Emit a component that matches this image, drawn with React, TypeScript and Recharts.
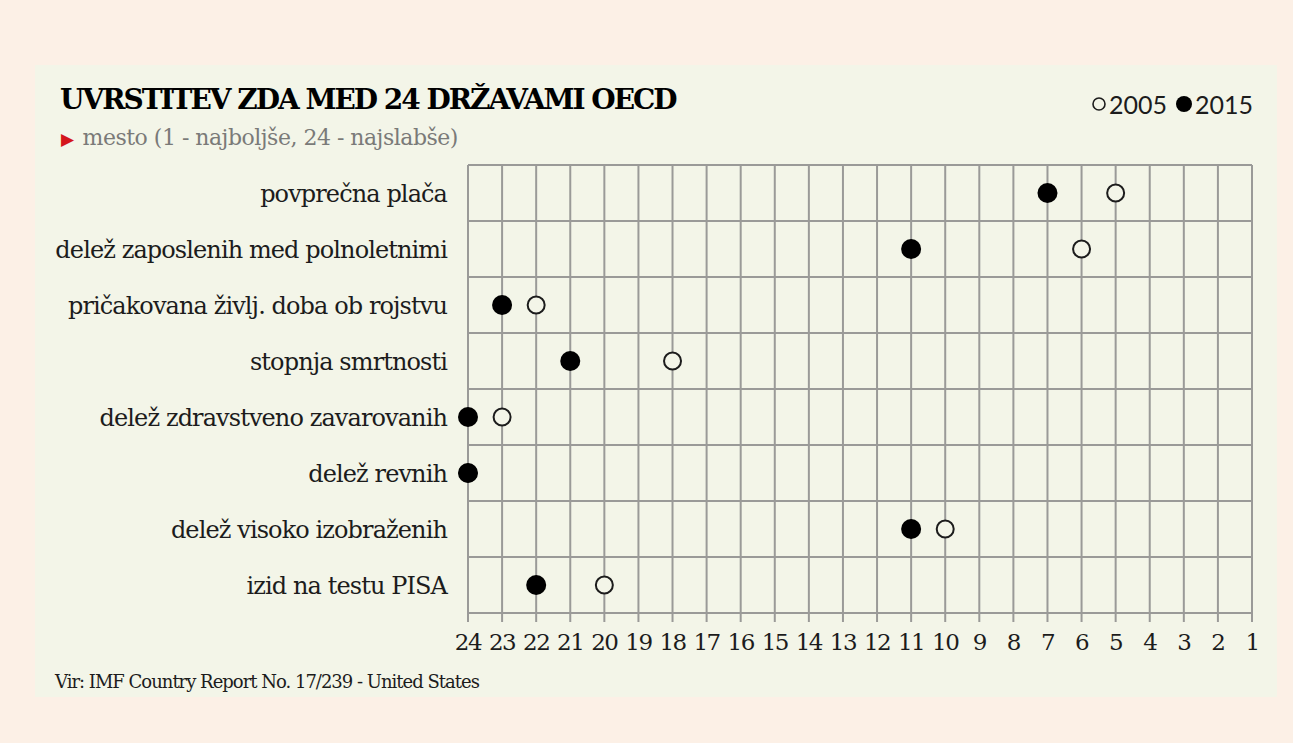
import React from "react";
import {
  ScatterChart, Scatter, XAxis, YAxis, CartesianGrid, ReferenceLine,
} from "recharts";

/* Rankings of the USA among 24 OECD countries (1 = best, 24 = worst). */
const CATEGORIES = [
  "povprečna plača",
  "delež zaposlenih med polnoletnimi",
  "pričakovana življ. doba ob rojstvu",
  "stopnja smrtnosti",
  "delež zdravstveno zavarovanih",
  "delež revnih",
  "delež visoko izobraženih",
  "izid na testu PISA",
];
const RANK_2005 = [5, 6, 22, 18, 23, 24, 10, 20];
const RANK_2015 = [7, 11, 23, 21, 24, 24, 11, 22];
const RANK_TICKS = [24, 23, 22, 21, 20, 19, 18, 17, 16, 15, 14, 13, 12, 11, 10, 9, 8, 7, 6, 5, 4, 3, 2, 1];

const PAGE_BG = "#fcf0e6";
const PANEL_BG = "#f3f5e8";
const GRID = "#9a9a98";
const INK = "#1c1c1c";
const SERIF = "'DejaVu Serif', serif";

const rowCenters = CATEGORIES.map((_, i) => i + 0.5);
const rowBounds = CATEGORIES.map((_, i) => i).concat([CATEGORIES.length]);

const points2005 = RANK_2005.map((r, i) => ({ x: r, y: rowCenters[i] }));
const points2015 = RANK_2015.map((r, i) => ({ x: r, y: rowCenters[i] }));

const OpenDot = (props: any) => (
  <circle cx={props.cx} cy={props.cy} r={8.5} fill={PANEL_BG} stroke={INK} strokeWidth={2} />
);
const FilledDot = (props: any) => (
  <circle cx={props.cx} cy={props.cy} r={10} fill="#000" />
);

export default function App() {
  return (
    <div style={{ position: "absolute", left: 0, top: 0, width: 1293, height: 743, background: PAGE_BG, overflow: "hidden" }}>
      <div style={{ position: "absolute", left: 35, top: 65, width: 1242, height: 632, background: PANEL_BG }} />

      <div style={{
        position: "absolute", left: 60, top: 83, fontFamily: SERIF, fontWeight: 900,
        fontSize: 28, letterSpacing: -2, color: "#000", whiteSpace: "nowrap",
      }}>
        UVRSTITEV ZDA MED 24 DRŽAVAMI OECD
      </div>
      <div style={{
        position: "absolute", left: 61, top: 125, fontFamily: SERIF, fontSize: 22,
        letterSpacing: -0.5, color: "#7a7a78", whiteSpace: "nowrap",
      }}>
        <span style={{ color: "#d4151b", fontSize: 17, marginRight: 9 }}>▶</span>
        mesto (1 - najboljše, 24 - najslabše)
      </div>

      <div style={{
        position: "absolute", right: 40, top: 89, fontFamily: "Lato, sans-serif", fontSize: 25,
        color: INK, whiteSpace: "nowrap", display: "flex", alignItems: "center",
      }}>
        <svg width={16} height={16} style={{ marginRight: 2 }}>
          <circle cx={8} cy={8} r={6} fill="none" stroke={INK} strokeWidth={1.6} />
        </svg>
        <span style={{ marginRight: 8 }}>2005</span>
        <svg width={18} height={18} style={{ marginRight: 2 }}>
          <circle cx={9} cy={9} r={8} fill="#000" />
        </svg>
        <span>2015</span>
      </div>

      <div style={{ position: "absolute", left: 0, top: 0 }}>
        <ScatterChart width={1293} height={743} margin={{ top: 165, right: 41, bottom: 90, left: 28 }}>
          <CartesianGrid horizontal={false} stroke={GRID} strokeWidth={2} />
          {rowBounds.map((b) => (
            <ReferenceLine key={b} y={b} stroke={GRID} strokeWidth={2} />
          ))}
          <XAxis
            type="number"
            dataKey="x"
            domain={[1, 24]}
            reversed
            ticks={RANK_TICKS}
            interval={0}
            height={40}
            axisLine={{ stroke: GRID, strokeWidth: 2 }}
            tickLine={{ stroke: GRID, strokeWidth: 2 }}
            tickSize={9}
            tickMargin={12}
            tick={{ fontSize: 23, fill: INK, fontFamily: SERIF, letterSpacing: -1.5 }}
          />
          <YAxis
            type="number"
            dataKey="y"
            domain={[0, CATEGORIES.length]}
            reversed
            ticks={rowCenters}
            interval={0}
            width={440}
            axisLine={false}
            tickLine={false}
            tickSize={6}
            tickMargin={15}
            tickFormatter={(v: number) => CATEGORIES[Math.floor(v)]}
            tick={{ fontSize: 24, fill: INK, fontFamily: SERIF, letterSpacing: -0.9 }}
          />
          <Scatter name="2005" data={points2005} shape={OpenDot} isAnimationActive={false} />
          <Scatter name="2015" data={points2015} shape={FilledDot} isAnimationActive={false} />
        </ScatterChart>
      </div>

      <div style={{
        position: "absolute", left: 55, top: 671, fontFamily: SERIF, fontSize: 18,
        letterSpacing: -1, color: INK, whiteSpace: "nowrap",
      }}>
        Vir: IMF Country Report No. 17/239 - United States
      </div>
    </div>
  );
}
